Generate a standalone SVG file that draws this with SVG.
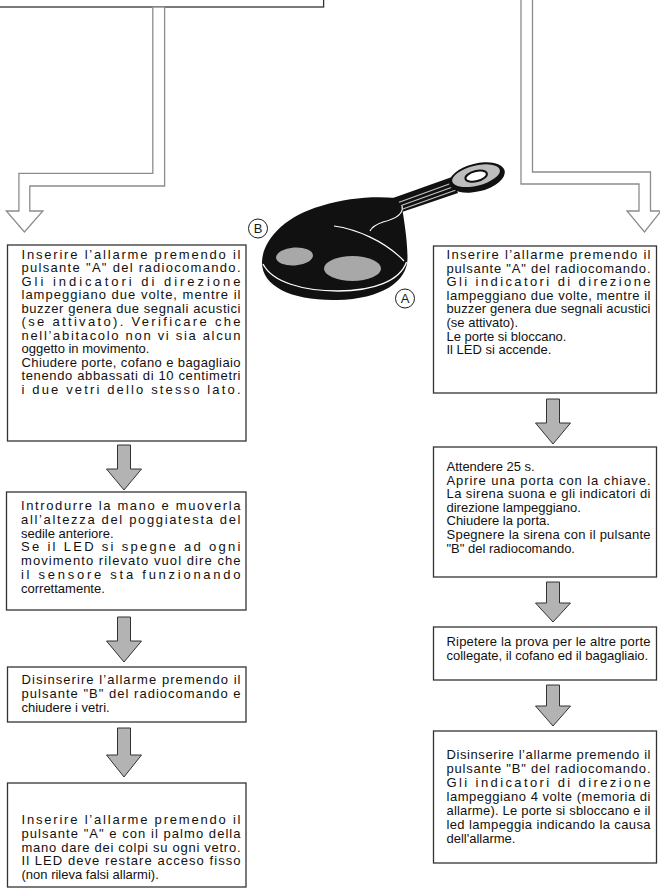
<svg xmlns="http://www.w3.org/2000/svg" width="660" height="888" viewBox="0 0 660 888">
<style>
  .box { fill: #fff; stroke: #333; stroke-width: 1.3; }
  .t { font-family: "Liberation Sans", Arial, sans-serif; font-size: 13px; fill: #111; }
  .feed { fill: #fff; stroke: #8c8c8c; stroke-width: 1.3; stroke-linejoin: miter; }
  .step { fill: #b3b3b3; stroke: #333; stroke-width: 1; stroke-linejoin: miter; }
  .lbl { fill: #fff; stroke: #1a1a1a; stroke-width: 1; }
  .lt { font-family: "Liberation Sans", Arial, sans-serif; font-size: 13px; fill: #1a1a1a; text-anchor: middle; }
</style>

<!-- box continuing above the page -->
<g id="top-left-box">
  <rect class="box" x="-5" y="-10" width="328.6" height="17"/>
</g>

<!-- connectors -->
<g id="connectors">
  <polygon class="feed" points="152.8,7 152.8,173.3 18.9,173.3 18.9,211 6.3,211 24.4,232 42.9,211 29.8,211 29.8,186 164.6,186 164.6,7"/>
  <polygon class="feed" points="521,-2 521,184 639,184 639,211 627,211 644.5,232 661,211 650.5,211 650.5,172 532.5,172 532.5,-2"/>
  <!-- left column steps -->
  <path class="step" d="M117.5,445 H130.5 V469 H141.5 L124,490 L106.5,469 H117.5 Z"/>
  <path class="step" d="M117.5,617 H130.5 V641 H141.5 L124,662 L106.5,641 H117.5 Z"/>
  <path class="step" d="M117.5,728 H130.5 V755 H141.5 L124,777 L106.5,755 H117.5 Z"/>
  <!-- right column steps -->
  <path class="step" d="M546.5,399 H559.5 V423 H570.5 L553,444 L535.5,423 H546.5 Z"/>
  <path class="step" d="M546.5,582 H559.5 V603 H570.5 L553,622 L535.5,603 H546.5 Z"/>
  <path class="step" d="M546.5,685 H559.5 V706 H570.5 L553,726 L535.5,706 H546.5 Z"/>
</g>

<!-- remote control key -->
<g id="remote">
  <polygon points="393,198 452,177 458,193 402,212" fill="#111"/>
  <g stroke="#c4c4c4" stroke-width="1.2">
    <line x1="397" y1="203" x2="452" y2="183"/>
    <line x1="398.5" y1="206.5" x2="454" y2="186.5"/>
    <line x1="400" y1="210" x2="456" y2="190"/>
  </g>
  <g transform="rotate(-14 477 177.5)">
    <ellipse cx="477" cy="177.5" rx="28.5" ry="14" fill="#111"/>
    <ellipse cx="476.5" cy="175.5" rx="24.5" ry="10" fill="#bdbdbd"/>
    <ellipse cx="476.5" cy="176" rx="11" ry="5" fill="#fff" stroke="#111" stroke-width="2"/>
  </g>
  <path d="M262,262 C262.5,240 285,216 321,206 C347,198 372,196 396,198 L402,207 C404,220 407.5,240 407.5,258 C407.5,282 381,299 337,300 C293,301 261.5,287 262,262 Z" fill="#111"/>
  <path d="M263,264 C272,282 303,291 338,291 C373,291 400,281 406.5,262" fill="none" stroke="#fff" stroke-width="1.3"/>
  <path d="M334,226 C356,229 385,241 404,261" fill="none" stroke="#fff" stroke-width="1.2"/>
  <path d="M402,206 C404,214 395,219 383,222 C377,224 372,227 370,231" fill="none" stroke="#fff" stroke-width="1.2"/>
  <ellipse cx="294.5" cy="256.5" rx="18.5" ry="9" fill="#a8a8a8" transform="rotate(-4 294.5 256.5)"/>
  <ellipse cx="352.5" cy="268.5" rx="28.5" ry="12.5" fill="#a8a8a8"/>
</g>
<g id="label-b">
  <circle class="lbl" cx="258" cy="228.5" r="9.5"/>
  <text class="lt" x="258" y="233.2">B</text>
</g>
<g id="label-a">
  <circle class="lbl" cx="405" cy="298.5" r="9.5"/>
  <text class="lt" x="405" y="303.2">A</text>
</g>

<!-- left column -->
<g id="left-1">
  <rect class="box" x="7.5" y="245" width="238.5" height="196"/>
  <text class="t" x="21.5" y="258.5" textLength="219" lengthAdjust="spacing">Inserire l’allarme premendo il</text>
  <text class="t" x="21.5" y="272" textLength="219" lengthAdjust="spacing">pulsante "A" del radiocomando.</text>
  <text class="t" x="21.5" y="285.5" textLength="219" lengthAdjust="spacing">Gli indicatori di direzione</text>
  <text class="t" x="21.5" y="299" textLength="219" lengthAdjust="spacing">lampeggiano due volte,  mentre il</text>
  <text class="t" x="21.5" y="312.5" textLength="219" lengthAdjust="spacing">buzzer genera due segnali acustici</text>
  <text class="t" x="21.5" y="326" textLength="219" lengthAdjust="spacing">(se attivato). Verificare che</text>
  <text class="t" x="21.5" y="339.5" textLength="219" lengthAdjust="spacing">nell’abitacolo non vi sia alcun</text>
  <text class="t" x="21.5" y="353">oggetto in movimento.</text>
  <text class="t" x="21.5" y="366.5" textLength="219" lengthAdjust="spacing">Chiudere porte, cofano e bagagliaio</text>
  <text class="t" x="21.5" y="380" textLength="219" lengthAdjust="spacing">tenendo abbassati di 10 centimetri</text>
  <text class="t" x="21.5" y="393.5" textLength="219" lengthAdjust="spacing">i due vetri dello stesso lato.</text>
</g>
<g id="left-2">
  <rect class="box" x="6.5" y="492" width="239.5" height="118"/>
  <text class="t" x="21" y="510" textLength="219.5" lengthAdjust="spacing">Introdurre la mano e muoverla</text>
  <text class="t" x="21" y="523.8" textLength="219.5" lengthAdjust="spacing">all’altezza del poggiatesta del</text>
  <text class="t" x="21" y="537.6">sedile anteriore.</text>
  <text class="t" x="21" y="551.4" textLength="219.5" lengthAdjust="spacing">Se il LED si spegne ad ogni</text>
  <text class="t" x="21" y="565.2" textLength="219.5" lengthAdjust="spacing">movimento rilevato vuol dire che</text>
  <text class="t" x="21" y="579" textLength="219.5" lengthAdjust="spacing">il sensore sta funzionando</text>
  <text class="t" x="21" y="592.8">correttamente.</text>
</g>
<g id="left-3">
  <rect class="box" x="7.5" y="667" width="238.5" height="55"/>
  <text class="t" x="21.5" y="684" textLength="219" lengthAdjust="spacing">Disinserire l’allarme premendo il</text>
  <text class="t" x="21.5" y="698" textLength="219" lengthAdjust="spacing">pulsante "B" del radiocomando e</text>
  <text class="t" x="21.5" y="712">chiudere i vetri.</text>
</g>
<g id="left-4">
  <rect class="box" x="7.5" y="783" width="238.5" height="104"/>
  <text class="t" x="21.5" y="824" textLength="219" lengthAdjust="spacing">Inserire l’allarme premendo il</text>
  <text class="t" x="21.5" y="837.8" textLength="219" lengthAdjust="spacing">pulsante "A" e con il palmo della</text>
  <text class="t" x="21.5" y="851.6" textLength="219" lengthAdjust="spacing">mano dare dei colpi su ogni vetro.</text>
  <text class="t" x="21.5" y="865.4" textLength="219" lengthAdjust="spacing">Il LED deve restare acceso fisso</text>
  <text class="t" x="21.5" y="879.2">(non rileva falsi allarmi).</text>
</g>

<!-- right column -->
<g id="right-1">
  <rect class="box" x="433.5" y="246" width="223" height="147"/>
  <text class="t" x="446.5" y="259" textLength="204" lengthAdjust="spacing">Inserire l’allarme premendo il</text>
  <text class="t" x="446.5" y="272.6" textLength="204" lengthAdjust="spacing">pulsante "A" del radiocomando.</text>
  <text class="t" x="446.5" y="286.2" textLength="204" lengthAdjust="spacing">Gli indicatori di direzione</text>
  <text class="t" x="446.5" y="299.8" textLength="204" lengthAdjust="spacing">lampeggiano due volte,  mentre il</text>
  <text class="t" x="446.5" y="313.4" textLength="204" lengthAdjust="spacing">buzzer genera due segnali acustici</text>
  <text class="t" x="446.5" y="327">(se attivato).</text>
  <text class="t" x="446.5" y="340.6">Le porte si bloccano.</text>
  <text class="t" x="446.5" y="354.2">Il LED si accende.</text>
</g>
<g id="right-2">
  <rect class="box" x="433.5" y="447" width="223" height="130"/>
  <text class="t" x="446.5" y="471">Attendere 25 s.</text>
  <text class="t" x="446.5" y="484.6" textLength="204" lengthAdjust="spacing">Aprire una porta con la chiave.</text>
  <text class="t" x="446.5" y="498.2" textLength="204" lengthAdjust="spacing">La sirena suona e gli indicatori di</text>
  <text class="t" x="446.5" y="511.8">direzione lampeggiano.</text>
  <text class="t" x="446.5" y="525.4">Chiudere la porta.</text>
  <text class="t" x="446.5" y="539" textLength="204" lengthAdjust="spacing">Spegnere la sirena con il pulsante</text>
  <text class="t" x="446.5" y="552.6">"B" del radiocomando.</text>
</g>
<g id="right-3">
  <rect class="box" x="433.5" y="627" width="223" height="53"/>
  <text class="t" x="446.5" y="646" textLength="204" lengthAdjust="spacing">Ripetere la prova per le altre porte</text>
  <text class="t" x="446.5" y="660">collegate, il cofano ed il bagagliaio.</text>
</g>
<g id="right-4">
  <rect class="box" x="433.5" y="731" width="223" height="132"/>
  <text class="t" x="446.5" y="759" textLength="204" lengthAdjust="spacing">Disinserire l’allarme premendo il</text>
  <text class="t" x="446.5" y="773" textLength="204" lengthAdjust="spacing">pulsante "B" del radiocomando.</text>
  <text class="t" x="446.5" y="787" textLength="204" lengthAdjust="spacing">Gli indicatori di direzione</text>
  <text class="t" x="446.5" y="801" textLength="204" lengthAdjust="spacing">lampeggiano 4 volte (memoria di</text>
  <text class="t" x="446.5" y="815" textLength="204" lengthAdjust="spacing">allarme). Le porte si sbloccano e il</text>
  <text class="t" x="446.5" y="829" textLength="204" lengthAdjust="spacing">led lampeggia indicando la causa</text>
  <text class="t" x="446.5" y="843">dell'allarme.</text>
</g>
</svg>
